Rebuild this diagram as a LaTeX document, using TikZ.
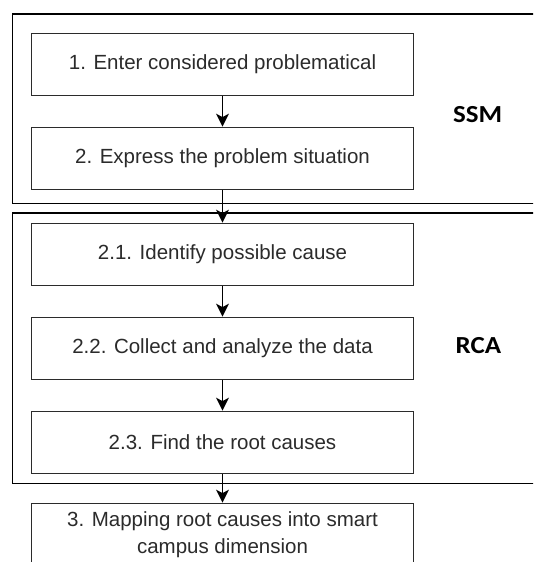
\documentclass[tikz,border=0pt]{standalone}
\usepackage{fontspec}
\setmainfont{Liberation Sans}
\newfontfamily\phasefont{Carlito}
\usetikzlibrary{arrows.meta}
\definecolor{ink}{HTML}{2B2B2B}
\tikzset{
  stepbox/.style={draw=ink, line width=1.3pt, fill=white, text=ink,
    minimum width=381.6pt, minimum height=62pt, inner sep=0pt,
    align=center, font=\fontsize{20.5}{27}\selectfont},
  phase/.style={draw=black, line width=1.6pt},
  phaselabel/.style={font=\phasefont\bfseries\fontsize{24.5}{28}\selectfont,
    text=black, xscale=1.1},
  flow/.style={draw=black, line width=1.3pt,
    -{Stealth[length=13pt, width=13pt, inset=3.5pt]}}
}
\begin{document}
\begin{tikzpicture}[x=1pt, y=-1pt]
  \useasboundingbox (0,0) rectangle (533,562);
  \clip (0,0) rectangle (533,562);

  % phase containers
  \draw[phase] (12.5,14.2) rectangle (545,203.3);
  \draw[phase] (12.5,212.7) rectangle (545,483.3);
  \node[phaselabel] (ssm) at (477.7,115) {SSM};
  \node[phaselabel] (rca) at (478.3,345.7) {RCA};

  % steps
  \node[stepbox] (s1)  at (222.5,64.3)  {1. Enter considered problematical};
  \node[stepbox] (s2)  at (222.5,158.3) {2. Express the problem situation};
  \node[stepbox] (s21) at (222.5,254.3) {2.1. Identify possible cause};
  \node[stepbox] (s22) at (222.5,348.3) {2.2. Collect and analyze the data};
  \node[stepbox] (s23) at (222.5,442.3) {2.3. Find the root causes};
  \node[stepbox, minimum height=63pt] (s3) at (222.5,534.8)
    {3. Mapping root causes into smart\\campus dimension};

  % flow
  \draw[flow] (s1.south) -- (s2.north);
  \draw[flow] (s2.south) -- (s21.north);
  \draw[flow] (s21.south) -- (s22.north);
  \draw[flow] (s22.south) -- (s23.north);
  \draw[flow] (s23.south) -- (s3.north);
\end{tikzpicture}
\end{document}
